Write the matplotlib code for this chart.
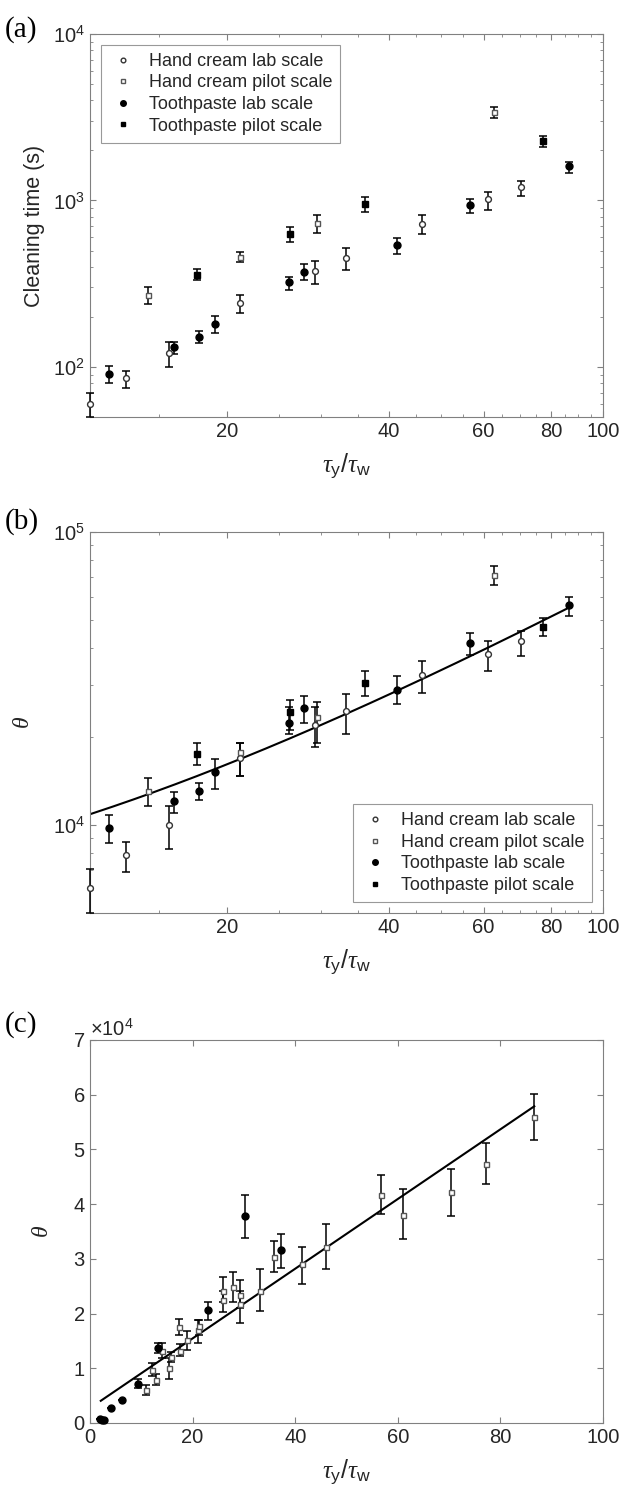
import numpy as np
import matplotlib
matplotlib.use("Agg")
import matplotlib.pyplot as plt
from matplotlib.lines import Line2D
from matplotlib.ticker import FixedLocator, NullFormatter, FixedFormatter, ScalarFormatter

plt.rcParams['font.family'] = ['Liberation Sans', 'DejaVu Sans']
plt.rcParams['mathtext.fontset'] = 'custom'
plt.rcParams['mathtext.rm'] = 'Liberation Sans'
plt.rcParams['mathtext.it'] = 'Liberation Serif:italic'
plt.rcParams['mathtext.sf'] = 'Liberation Sans'

# ---- panel (a): cleaning time vs tau_y/tau_w ----
hc_lab_x = [11.15, 13.0, 15.6, 21.2, 29.2, 33.3, 46.2, 61.1, 70.3]
hc_pilot_x = [14.3, 21.2, 29.4, 62.7]
tp_lab_x = [12.1, 16.0, 17.8, 19.0, 26.1, 27.8, 41.4, 56.6, 86.3]
tp_pilot_x = [17.6, 26.2, 36.1, 77.3]

a_hc_lab = [60, 86, 121, 241, 378, 454, 725, 1014, 1202]
a_hc_lab_lo = [50, 75, 100, 211, 315, 381, 626, 871, 1062]
a_hc_lab_hi = [70, 95, 141, 271, 434, 519, 813, 1122, 1318]
a_hc_pilot = [271, 459, 732, 3388]
a_hc_pilot_lo = [239, 428, 638, 3133]
a_hc_pilot_hi = [301, 487, 821, 3664]
a_tp_lab = [91, 131, 151, 181, 322, 373, 543, 933, 1607]
a_tp_lab_lo = [80, 120, 139, 160, 290, 333, 480, 840, 1466]
a_tp_lab_hi = [101, 141, 164, 201, 348, 413, 598, 1014, 1698]
a_tp_pilot = [359, 632, 946, 2270]
a_tp_pilot_lo = [333, 564, 852, 2089]
a_tp_pilot_hi = [390, 693, 1047, 2455]

# ---- panel (b): theta vs tau_y/tau_w (log-log) ----
b_hc_lab = [6063, 7856, 10000, 16883, 21880, 24470, 32370, 38250, 42290]
b_hc_lab_lo = [5000, 6902, 8275, 14640, 18390, 20400, 28150, 33500, 37800]
b_hc_lab_hi = [7047, 8762, 11620, 18960, 25240, 27900, 36200, 42490, 45940]
b_hc_pilot = [13030, 17690, 23400, 71000]
b_hc_pilot_lo = [11590, 14640, 19000, 66000]
b_hc_pilot_hi = [14490, 18960, 26300, 76200]
b_tp_lab = [9743, 12050, 13060, 15100, 22340, 24970, 28940, 41740, 56080]
b_tp_lab_lo = [8670, 11010, 12140, 13300, 20400, 22200, 25780, 38000, 51620]
b_tp_lab_hi = [10810, 12890, 13900, 16800, 25300, 27500, 32140, 45110, 60010]
b_tp_pilot = [17470, 24210, 30500, 47370]
b_tp_pilot_lo = [15950, 21000, 27520, 44170]
b_tp_pilot_hi = [18970, 26600, 33380, 50990]
b_fit_slope, b_fit_icpt = 588, 4310
b_fit_range = (11.15, 86.3)

# ---- panel (c): theta vs tau_y/tau_w (linear) ----
c_circ_x = [2.0, 2.4, 2.8, 4.0, 6.3, 9.3, 13.2, 23.0, 30.2, 37.2]
c_circ = [800, 500, 600, 2670, 4240, 7150, 13700, 20600, 37900, 31600]
c_circ_lo = [800, 500, 600, 2670, 4240, 6400, 12800, 18900, 33900, 28300]
c_circ_hi = [800, 500, 600, 2670, 4240, 8000, 14700, 22100, 41700, 34500]
c_sq_x = [11.0, 12.0, 12.9, 14.1, 15.4, 15.8, 17.4, 17.6, 19.0, 21.1, 21.2, 26.0, 26.0,
          27.8, 29.2, 29.2, 33.2, 35.9, 41.3, 46.0, 56.7, 61.1, 70.4, 77.2, 86.6]
c_sq = [6060, 9700, 7800, 13150, 10000, 12100, 17500, 13150, 15150, 17000, 17700, 22400, 24200,
        24850, 23450, 21800, 24200, 30400, 29000, 32200, 41700, 38100, 42300, 47300, 55900]
c_sq_lo = [5200, 8600, 7000, 11800, 8100, 11200, 16000, 12200, 13300, 14700, 16000, 20200, 22100,
           22200, 21000, 18300, 20500, 27600, 25400, 28100, 38200, 33600, 37900, 43700, 51700]
c_sq_hi = [7000, 10900, 8900, 14700, 11900, 13000, 19000, 14400, 16800, 18900, 18900, 24100, 26700,
           27600, 26200, 24100, 28100, 33300, 32200, 36400, 45300, 42700, 46400, 51100, 60100]
c_fit_slope, c_fit_icpt = 637, 2720
c_fit_range = (2.1, 86.6)

series_names = ['Hand cream lab scale', 'Hand cream pilot scale',
                'Toothpaste lab scale', 'Toothpaste pilot scale']
series_style = [dict(marker='o', mfc='white', mec='#333333', ms=4.2),
                dict(marker='s', mfc='white', mec='#555555', ms=3.6),
                dict(marker='o', mfc='black', mec='black', ms=5),
                dict(marker='s', mfc='black', mec='black', ms=4)]

AX_COL = '#808080'
TXT_COL = '#262626'
TICK_FS = 14.5
xlab = r'$\tau_{\mathrm{y}}/\tau_{\mathrm{w}}$'


def draw_err(ax, x, y, lo, hi, style):
    y = np.array(y, dtype=float)
    err = [y - np.array(lo), np.array(hi) - y]
    ax.errorbar(x, y, yerr=err, linestyle='none', ecolor='black', elinewidth=1.1,
                capsize=2.8, capthick=1.1, zorder=3, clip_on=False, **style)


def style_axes(ax):
    for s in ax.spines.values():
        s.set_color(AX_COL)
        s.set_linewidth(0.8)
    ax.tick_params(which='both', direction='in', top=True, right=True,
                   color=AX_COL, labelcolor=TXT_COL, labelsize=TICK_FS)
    ax.tick_params(which='major', length=4)
    ax.tick_params(which='minor', length=2.3)


def log_x(ax):
    ax.set_xscale('log')
    ax.set_xlim(11.15, 100)
    ax.xaxis.set_major_locator(FixedLocator([20, 40, 60, 80, 100]))
    ax.xaxis.set_major_formatter(FixedFormatter(['20', '40', '60', '80', '100']))
    ax.xaxis.set_minor_locator(FixedLocator([15, 25, 30, 35, 45, 50, 55, 65, 70, 75, 85, 90, 95]))
    ax.xaxis.set_minor_formatter(NullFormatter())
    ax.set_xlabel(xlab, fontsize=18, color=TXT_COL, labelpad=8)


def legend(ax, loc):
    handles = [Line2D([], [], linestyle='none', **{**st, 'ms': st['ms'] * 0.8}) for st in series_style]
    lg = ax.legend(handles, series_names, loc=loc, fontsize=13, frameon=True, fancybox=False,
                   handletextpad=0.6, borderpad=0.45, labelspacing=0.25, handlelength=1.6,
                   borderaxespad=0.6)
    lg.get_frame().set_edgecolor(AX_COL)
    lg.get_frame().set_linewidth(0.8)
    for t in lg.get_texts():
        t.set_color(TXT_COL)


fig = plt.figure(figsize=(6.19, 14.92), dpi=100)

# (a)
axA = fig.add_axes([0.1454, 0.7205, 0.8288, 0.2567])
draw_err(axA, hc_lab_x, a_hc_lab, a_hc_lab_lo, a_hc_lab_hi, series_style[0])
draw_err(axA, hc_pilot_x, a_hc_pilot, a_hc_pilot_lo, a_hc_pilot_hi, series_style[1])
draw_err(axA, tp_lab_x, a_tp_lab, a_tp_lab_lo, a_tp_lab_hi, series_style[2])
draw_err(axA, tp_pilot_x, a_tp_pilot, a_tp_pilot_lo, a_tp_pilot_hi, series_style[3])
axA.set_yscale('log')
axA.set_ylim(50, 1e4)
log_x(axA)
style_axes(axA)
axA.set_ylabel('Cleaning time (s)', fontsize=15.5, color=TXT_COL, labelpad=6)
legend(axA, 'upper left')

# (b)
axB = fig.add_axes([0.1454, 0.3881, 0.8288, 0.2554])
draw_err(axB, hc_lab_x, b_hc_lab, b_hc_lab_lo, b_hc_lab_hi, series_style[0])
draw_err(axB, hc_pilot_x, b_hc_pilot, b_hc_pilot_lo, b_hc_pilot_hi, series_style[1])
draw_err(axB, tp_lab_x, b_tp_lab, b_tp_lab_lo, b_tp_lab_hi, series_style[2])
draw_err(axB, tp_pilot_x, b_tp_pilot, b_tp_pilot_lo, b_tp_pilot_hi, series_style[3])
xf = np.linspace(*b_fit_range, 200)
axB.plot(xf, b_fit_icpt + b_fit_slope * xf, color='black', lw=1.5, zorder=2)
axB.set_yscale('log')
axB.set_ylim(5000, 1e5)
log_x(axB)
style_axes(axB)
axB.set_ylabel(r'$\theta$', fontsize=17, color=TXT_COL, labelpad=14)
legend(axB, 'lower right')

# (c)
axC = fig.add_axes([0.1454, 0.04625, 0.8288, 0.2567])
draw_err(axC, c_sq_x, c_sq, c_sq_lo, c_sq_hi, dict(marker='s', mfc='white', mec='#555555', ms=3.6))
draw_err(axC, c_circ_x, c_circ, c_circ_lo, c_circ_hi, dict(marker='o', mfc='black', mec='black', ms=5))
xf = np.linspace(*c_fit_range, 50)
axC.plot(xf, c_fit_icpt + c_fit_slope * xf, color='black', lw=1.5, zorder=2)
axC.set_xlim(0, 100)
axC.set_ylim(0, 7e4)
axC.set_xticks([0, 20, 40, 60, 80, 100])
axC.set_yticks(np.arange(0, 7.1e4, 1e4))
fmt = ScalarFormatter(useMathText=True)
fmt.set_powerlimits((0, 0))
axC.yaxis.set_major_formatter(fmt)
style_axes(axC)
axC.yaxis.get_offset_text().set_fontsize(TICK_FS)
axC.yaxis.get_offset_text().set_color(TXT_COL)
axC.set_xlabel(xlab, fontsize=18, color=TXT_COL, labelpad=8)
axC.set_ylabel(r'$\theta$', fontsize=17, color=TXT_COL, labelpad=14)

# panel letters
for lab, yy in [('(a)', 1 - 30 / 1492), ('(b)', 1 - 522 / 1492), ('(c)', 1 - 1025 / 1492)]:
    fig.text(0.008, yy, lab, fontsize=21, family='Liberation Serif', va='center', ha='left')

fig.savefig('out.png', dpi=100)
